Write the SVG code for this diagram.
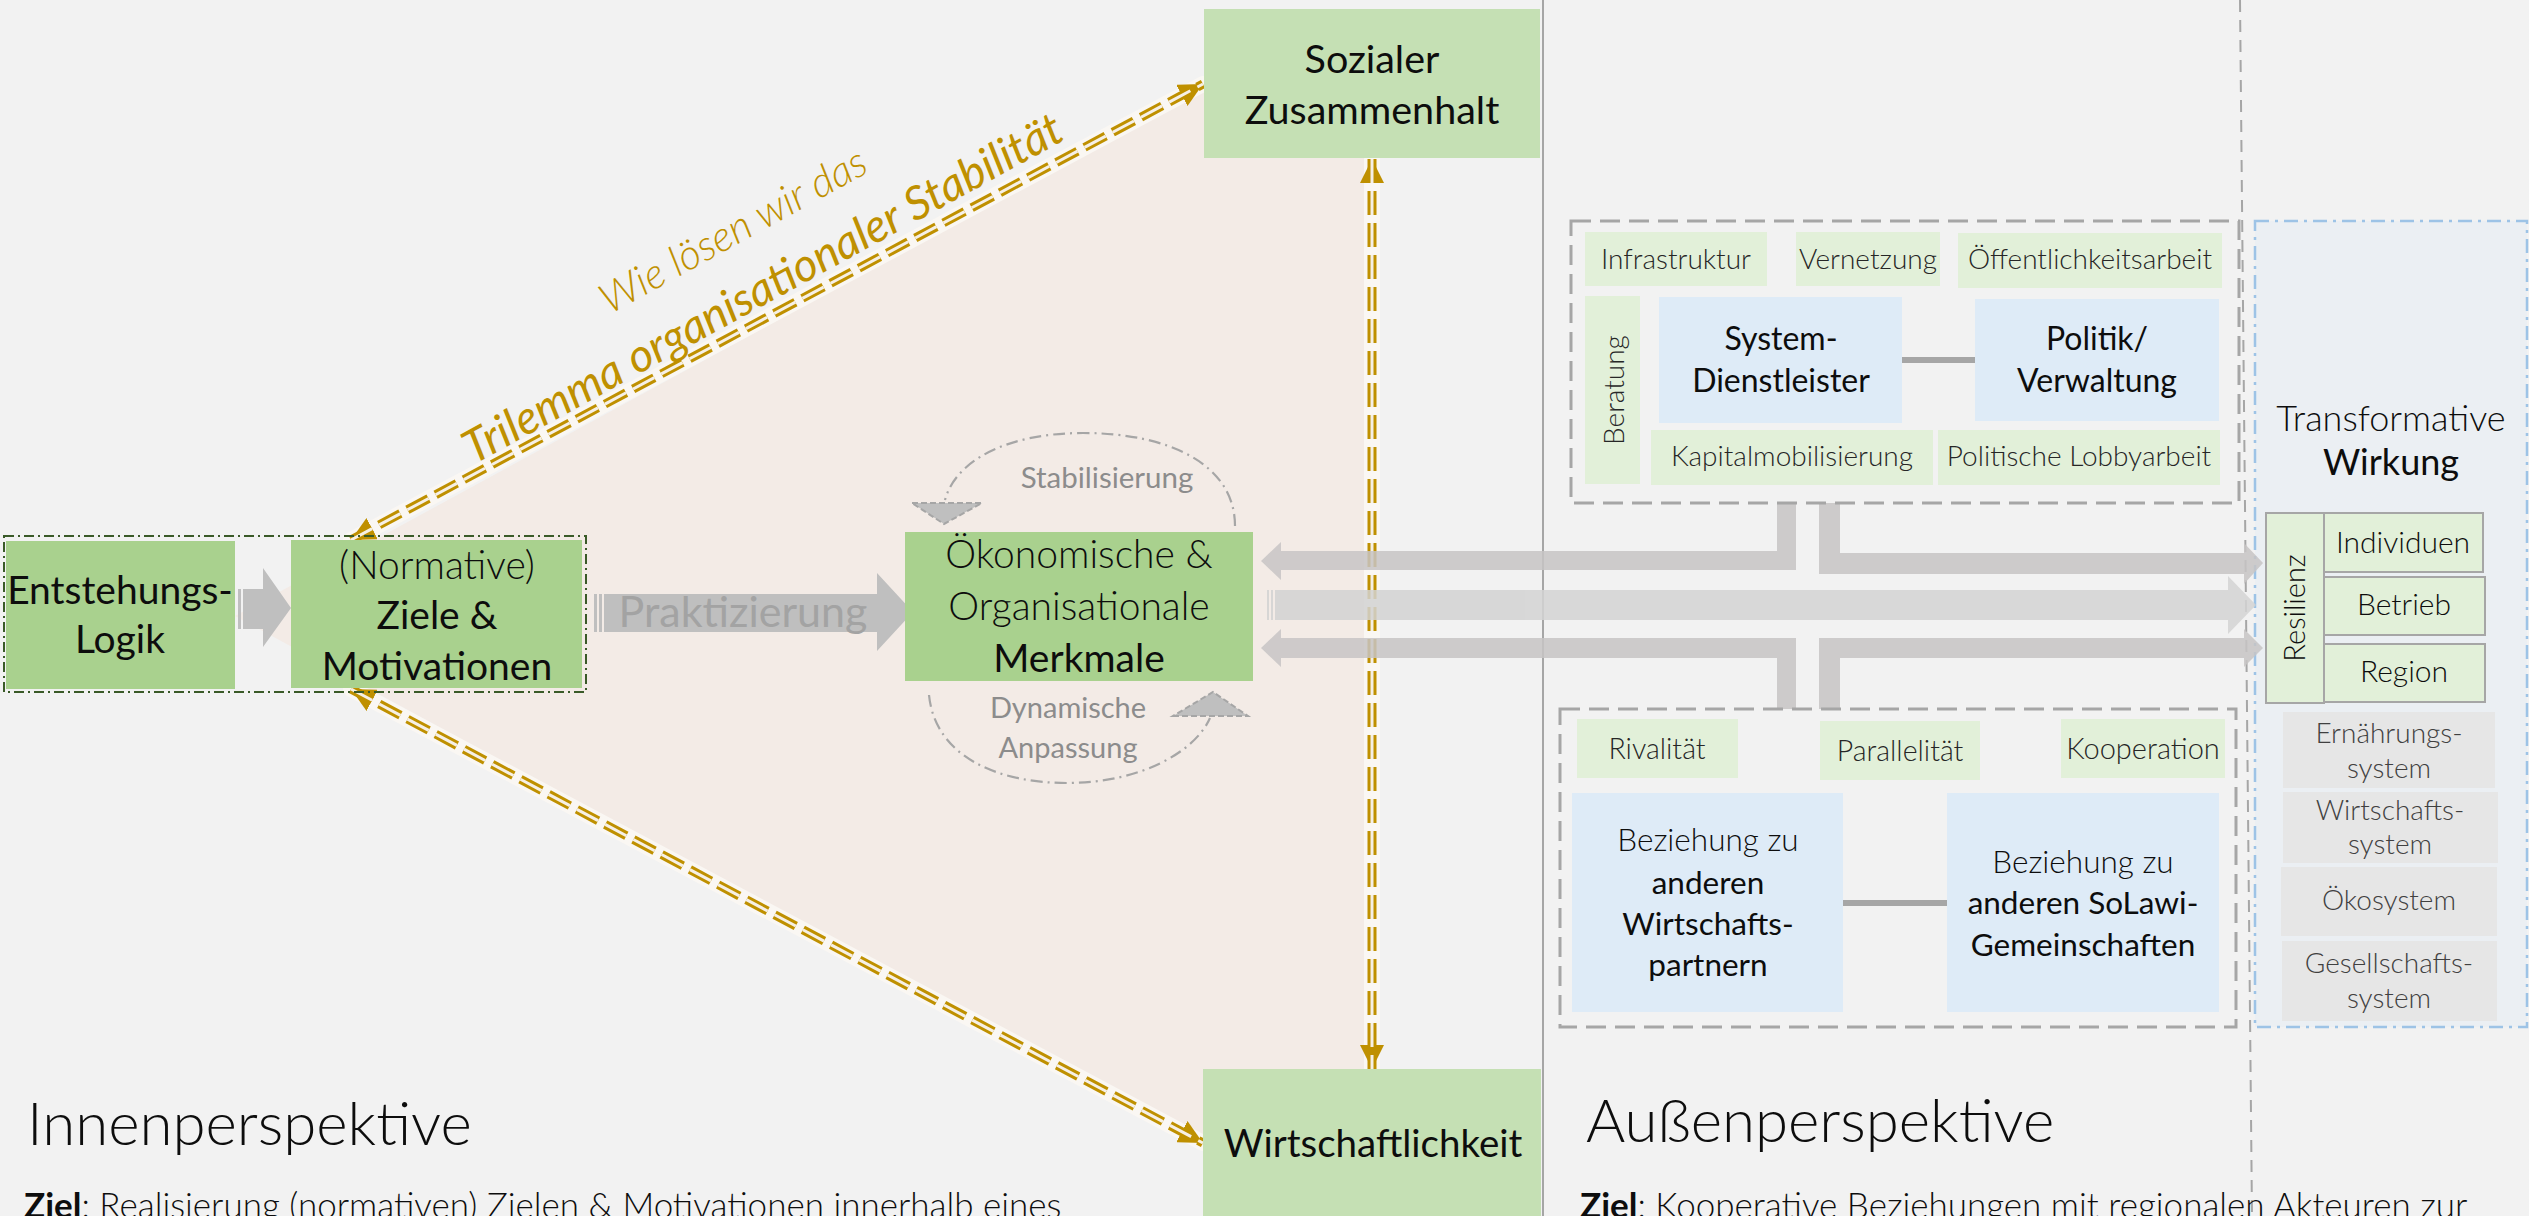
<svg xmlns="http://www.w3.org/2000/svg" width="2529" height="1216" viewBox="0 0 2529 1216">
<style>
text{font-family:Lato,"Liberation Sans",sans-serif;fill:#0d0d0d;text-anchor:middle}
.l{font-weight:300}
.r{font-weight:400}
.b{font-weight:700}
.g1{fill:#a9d18e}
.g2{fill:#c5e0b4}
.g3{fill:#e2f0d9}
.bl{fill:#deebf7}
.gr{fill:#e6e6e6}
.sm{font-size:28px;font-weight:300;fill:#262626}
.gold{fill:none;stroke:#bf9000;stroke-width:9;stroke-dasharray:24 8}
.goldin{fill:none;stroke:#f6f0e6;stroke-width:3;stroke-dasharray:24 8}
.glow{fill:none;stroke:#faf7f3;stroke-width:16;stroke-linecap:round}
.ba{fill:#c7c4c4;opacity:0.85}
.loop{fill:none;stroke:#a6a6a6;stroke-width:2.2;stroke-dasharray:12 5 2 5}
.lh{fill:#bfbfbf;stroke:#a6a6a6;stroke-width:2;stroke-dasharray:6 3}
.grp{fill:none;stroke:#a6a6a6;stroke-width:3;stroke-dasharray:20 9}
.conn{stroke:#a6a6a6;stroke-width:6}
.sys{font-size:28px;font-weight:300;fill:#404040}
</style>
<defs>
<marker id="ah" viewBox="0 0 24 24" markerWidth="24" markerHeight="24" markerUnits="userSpaceOnUse" refX="24" refY="12" orient="auto-start-reverse">
<path d="M0,0 L24,12 L0,24 z" fill="#bf9000"/>
</marker>
</defs>
<rect width="2529" height="1216" fill="#f2f2f2"/>
<polygon points="235,616 1204,88 1204,158 1372,158 1372,1070 1204,1070 1204,1143" fill="#f3ebe6"/>
<g id="dividers">
<line x1="1543" y1="0" x2="1543" y2="1216" stroke="#a6a6a6" stroke-width="2"/>
<line x1="2240" y1="0" x2="2252" y2="1216" stroke="#a6a6a6" stroke-width="2" stroke-dasharray="12 8"/>
</g>
<g id="transformative-panel">
<rect x="2255" y="221" width="272" height="806" fill="#ebeff3" stroke="#9dc3e6" stroke-width="2.5" stroke-dasharray="14 6 3 6"/>
</g>
<g id="connectors">
<path class="glow" d="M351,540 L1203,84"/>
<path class="glow" d="M351,689 L1203,1143"/>
<path class="glow" d="M1372,160 L1372,1068"/>
<path class="gold" d="M351,540 L1203,84" marker-start="url(#ah)" marker-end="url(#ah)"/>
<path class="goldin" d="M351,540 L1203,84"/>
<path class="gold" d="M351,689 L1203,1143" marker-start="url(#ah)" marker-end="url(#ah)"/>
<path class="goldin" d="M351,689 L1203,1143"/>
<path class="gold" d="M1372,159 L1372,1069" marker-start="url(#ah)" marker-end="url(#ah)"/>
<path class="goldin" d="M1372,159 L1372,1069"/>
<g fill="#bfbfbf">
<rect x="238" y="589" width="3" height="40"/>
<polygon points="243,589 263,589 263,568 291,608 263,647 263,629 243,629"/>
<rect x="594" y="594" width="3" height="38"/>
<rect x="599" y="594" width="3" height="38"/>
<polygon points="604,594 877,594 877,573 913,612 877,651 877,632 604,632"/>
</g>
<path class="loop" d="M1235,526 C1235,465 1170,433 1083,433 C1005,433 955,462 945,500"/>
<polygon class="lh" points="912,503 982,503 944,524"/>
<path class="loop" d="M929,695 C935,755 995,783 1067,783 C1140,783 1195,752 1210,718"/>
<polygon class="lh" points="1173,716 1248,716 1213,692"/>
<polygon class="ba" points="1777,503 1796,503 1796,570 1281,570 1281,580 1261,561 1281,542 1281,551 1777,551"/>
<polygon class="ba" points="1819,503 1840,503 1840,553 2244,553 2244,543 2263,563 2244,584 2244,574 1819,574"/>
<g opacity="0.85" fill="#d3d3d3">
<rect x="1267" y="590" width="2" height="30"/>
<rect x="1271" y="590" width="2" height="30"/>
<polygon points="1275,590 2228,590 2228,576 2256,605 2228,634 2228,620 1275,620"/>
</g>
<polygon class="ba" points="1777,709 1777,658 1281,658 1281,667 1261,648 1281,629 1281,638 1796,638 1796,709"/>
<polygon class="ba" points="1819,709 1819,638 2244,638 2244,629 2263,648 2244,667 2244,658 1840,658 1840,709"/>
<line class="conn" x1="1902" y1="360" x2="1975" y2="360"/>
<line class="conn" x1="1843" y1="903" x2="1947" y2="903"/>
</g>
<g id="origin-group">
<rect x="4" y="536" width="582" height="156" fill="none" stroke="#3a5a28" stroke-width="2" stroke-dasharray="10 4 2 4"/>
</g>
<g id="node-entstehung">
<rect class="g1" x="6" y="541" width="229" height="148"/>
<text class="r" x="120" y="604" font-size="39">Entstehungs-</text>
<text class="r" x="120" y="653" font-size="39">Logik</text>
</g>
<g id="node-ziele">
<rect class="g1" x="291" y="540" width="291" height="148"/>
<text class="l" x="437" y="579" font-size="39">(Normative)</text>
<text class="r" x="437" y="629" font-size="39">Ziele &amp;</text>
<text class="r" x="437" y="680" font-size="39">Motivationen</text>
</g>
<text class="r" x="743" y="627" font-size="43" style="fill:#a3a3a3">Praktizierung</text>
<g id="node-merkmale">
<rect class="g1" x="905" y="532" width="348" height="149"/>
<text class="l" x="1079" y="568" font-size="39">Ökonomische &amp;</text>
<text class="l" x="1079" y="620" font-size="39">Organisationale</text>
<text class="r" x="1079" y="672" font-size="39">Merkmale</text>
</g>
<text class="r" x="1107" y="488" font-size="29.5" style="fill:#8c8c8c">Stabilisierung</text>
<text class="r" x="1068" y="718" font-size="29" style="fill:#8c8c8c">Dynamische</text>
<text class="r" x="1068" y="758" font-size="29" style="fill:#8c8c8c">Anpassung</text>
<g id="node-sozial">
<rect class="g2" x="1204" y="9" width="336" height="149"/>
<text class="r" x="1372" y="73" font-size="39.5">Sozialer</text>
<text class="r" x="1372" y="124" font-size="39.5">Zusammenhalt</text>
</g>
<g id="node-wirtschaft">
<rect class="g2" x="1203" y="1069" width="338" height="160"/>
<text class="r" x="1373" y="1157" font-size="38.5">Wirtschaftlichkeit</text>
</g>
<g id="trilemma-label">
<text class="l" font-size="42" font-style="italic" transform="translate(740,243) rotate(-28.8)" style="fill:#bf9000">Wie lösen wir das</text>
<text class="r" font-size="46" font-style="italic" transform="translate(770,302) rotate(-28.8)" style="fill:#bf9000">Trilemma organisationaler Stabilität</text>
</g>
<g id="group-upper">
<rect class="grp" x="1571" y="221" width="668" height="282"/>
<rect class="g3" x="1585" y="232" width="182" height="54"/>
<text class="sm" x="1676" y="269">Infrastruktur</text>
<rect class="g3" x="1796" y="232" width="144" height="54"/>
<text class="sm" x="1868" y="269">Vernetzung</text>
<rect class="g3" x="1958" y="233" width="264" height="55"/>
<text class="sm" x="2090" y="269">Öffentlichkeitsarbeit</text>
<rect class="g3" x="1585" y="296" width="55" height="188"/>
<text class="sm" transform="translate(1624,390) rotate(-90)">Beratung</text>
<rect class="g3" x="1651" y="430" width="282" height="55"/>
<text class="sm" x="1792" y="466">Kapitalmobilisierung</text>
<rect class="g3" x="1938" y="430" width="282" height="55"/>
<text class="sm" x="2079" y="466">Politische Lobbyarbeit</text>
</g>
<g id="node-systemdienstleister">
<rect class="bl" x="1659" y="297" width="243" height="126"/>
<text class="r" x="1781" y="350" font-size="32">System-</text>
<text class="r" x="1781" y="392" font-size="32">Dienstleister</text>
</g>
<g id="node-politik">
<rect class="bl" x="1975" y="299" width="244" height="122"/>
<text class="r" x="2097" y="350" font-size="32">Politik/</text>
<text class="r" x="2097" y="392" font-size="32">Verwaltung</text>
</g>
<g id="group-lower">
<rect class="grp" x="1560" y="709" width="676" height="318"/>
<rect class="g3" x="1577" y="719" width="161" height="59"/>
<text class="sm" x="1657" y="759" style="font-size:28.5px">Rivalität</text>
<rect class="g3" x="1820" y="721" width="160" height="59"/>
<text class="sm" x="1900" y="761" style="font-size:28.5px">Parallelität</text>
<rect class="g3" x="2061" y="719" width="164" height="59"/>
<text class="sm" x="2143" y="759" style="font-size:29px">Kooperation</text>
</g>
<g id="node-wirtschaftspartner">
<rect class="bl" x="1572" y="793" width="271" height="219"/>
<text class="l" x="1708" y="851" font-size="31.5">Beziehung zu</text>
<text class="r" x="1708" y="894" font-size="31.5">anderen</text>
<text class="r" x="1708" y="935" font-size="31.5">Wirtschafts-</text>
<text class="r" x="1708" y="976" font-size="31.5">partnern</text>
</g>
<g id="node-solawi">
<rect class="bl" x="1947" y="793" width="272" height="219"/>
<text class="l" x="2083" y="873" font-size="31.5">Beziehung zu</text>
<text class="r" x="2083" y="914" font-size="31.5">anderen SoLawi-</text>
<text class="r" x="2083" y="956" font-size="31.5">Gemeinschaften</text>
</g>
<g id="node-transformative">
<text class="l" x="2391" y="431" font-size="36">Transformative</text>
<text class="r" x="2391" y="475" font-size="36">Wirkung</text>
</g>
<g id="node-resilienz">
<rect x="2266" y="513" width="58" height="190" fill="#e2f0d9" stroke="#a6a6a6" stroke-width="2"/>
<text class="l" font-size="29" transform="translate(2305,608) rotate(-90)">Resilienz</text>
<rect x="2324" y="513" width="159" height="59" fill="#e2f0d9" stroke="#a6a6a6" stroke-width="2"/>
<text class="l" x="2403" y="553" font-size="30">Individuen</text>
<rect x="2324" y="577" width="161" height="58" fill="#e2f0d9" stroke="#a6a6a6" stroke-width="2"/>
<text class="l" x="2404" y="615" font-size="30">Betrieb</text>
<rect x="2324" y="644" width="161" height="58" fill="#e2f0d9" stroke="#a6a6a6" stroke-width="2"/>
<text class="l" x="2404" y="682" font-size="30">Region</text>
</g>
<g id="node-systems">
<rect class="gr" x="2283" y="712" width="212" height="76"/>
<text class="sys" x="2389" y="743">Ernährungs-</text>
<text class="sys" x="2389" y="778">system</text>
<rect class="gr" x="2283" y="792" width="215" height="71"/>
<text class="sys" x="2390" y="820">Wirtschafts-</text>
<text class="sys" x="2390" y="854">system</text>
<rect class="gr" x="2281" y="867" width="216" height="69"/>
<text class="sys" x="2389" y="910">Ökosystem</text>
<rect class="gr" x="2282" y="941" width="215" height="80"/>
<text class="sys" x="2389" y="973">Gesellschafts-</text>
<text class="sys" x="2389" y="1008">system</text>
</g>
<g id="titles">
<text class="l" x="27" y="1145" font-size="60" style="text-anchor:start">Innenperspektive</text>
<text class="l" x="24" y="1218" font-size="35" style="text-anchor:start"><tspan class="b">Ziel</tspan>: Realisierung (normativen) Zielen &amp; Motivationen innerhalb eines</text>
<text class="l" x="1586" y="1142" font-size="60" style="text-anchor:start">Außenperspektive</text>
<text class="l" x="1580" y="1218" font-size="35" style="text-anchor:start"><tspan class="b">Ziel</tspan>: Kooperative Beziehungen mit regionalen Akteuren zur</text>
</g>
</svg>
